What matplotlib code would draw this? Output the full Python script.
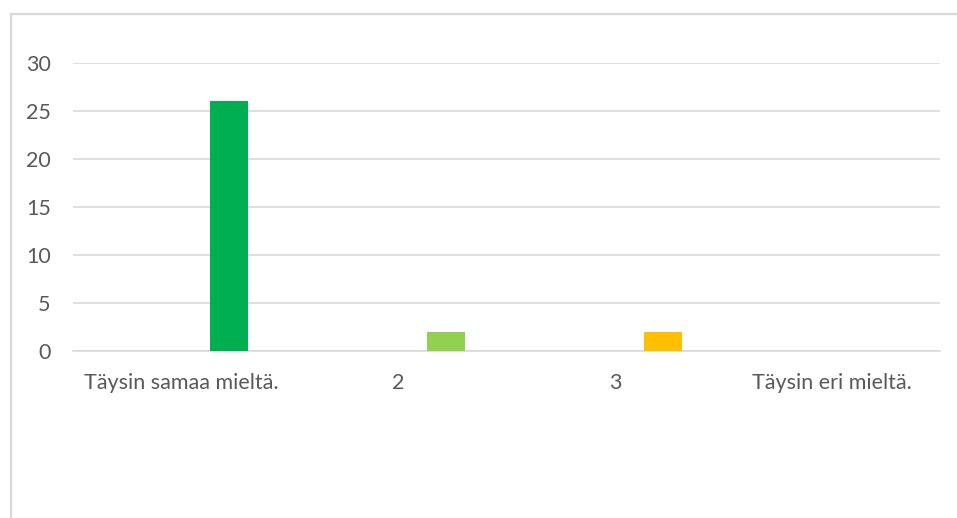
import matplotlib
matplotlib.use("Agg")
import matplotlib.pyplot as plt
import numpy as np
from matplotlib.patches import Rectangle

# Survey answers per response option
categories = ["Täysin samaa mieltä.", "2", "3", "Täysin eri mieltä."]
counts = [26, 2, 2, 0]
colors = ["#00B050", "#92D050", "#FFC000", "#FF0000"]
y_ticks = [0, 5, 10, 15, 20, 25, 30]

W, H = 957, 518
fig = plt.figure(figsize=(W / 100, H / 100), dpi=100)
fig.patch.set_facecolor("white")

# Chart-area frame (top and left edges visible)
fig.patches.append(Rectangle((11 / W, -0.1), 1.2, (H - 14) / H + 0.1,
                             transform=fig.transFigure, fill=False,
                             edgecolor="#D9D9D9", linewidth=1.6))

ax = fig.add_axes([73 / W, (H - 351) / H, (940 - 73) / W, (351 - 62.7) / H])

x = np.arange(len(categories))
bar_width = 0.175
offset = 0.22
ax.bar(x + offset, counts, width=bar_width, color=colors, zorder=3)

ax.set_xlim(-0.5, len(categories) - 0.5)
ax.set_ylim(0, 30)
ax.set_yticks(y_ticks)
ax.set_yticklabels([str(v) for v in y_ticks])
ax.set_xticks(x)
ax.set_xticklabels(categories)

ax.grid(axis="y", color="#D9D9D9", linewidth=1.2, zorder=0)
ax.set_axisbelow(True)
for s in ["top", "right", "left"]:
    ax.spines[s].set_visible(False)
ax.spines["bottom"].set_color("#D9D9D9")
ax.spines["bottom"].set_linewidth(1.2)

ax.tick_params(axis="both", length=0, labelcolor="#595959", labelsize=15.5)
ax.tick_params(axis="y", pad=16)
ax.tick_params(axis="x", pad=16)
for lab in ax.get_xticklabels() + ax.get_yticklabels():
    lab.set_family("Lato")

fig.savefig("out.png", dpi=100, facecolor="white")
